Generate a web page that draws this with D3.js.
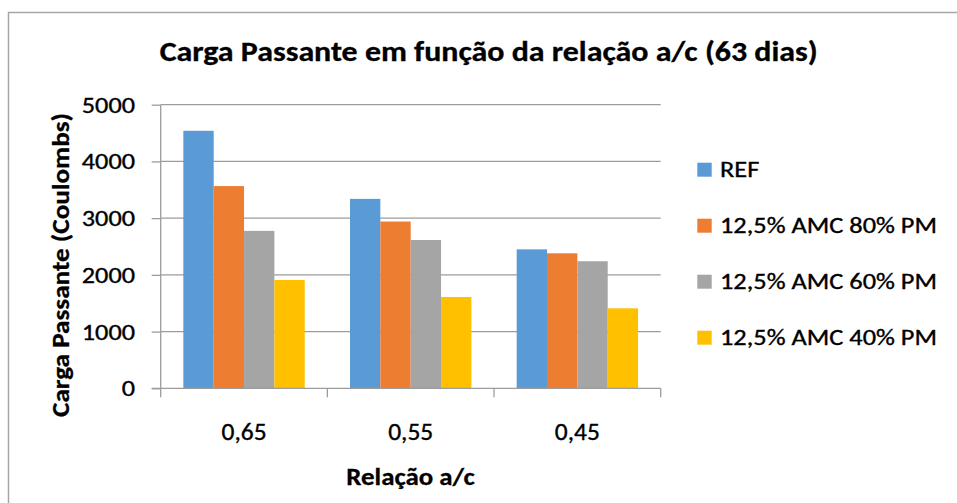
<!DOCTYPE html>
<html><head><meta charset="utf-8">
<script src="https://cdn.jsdelivr.net/npm/d3@7"></script>
<style>body{margin:0;background:#fff}svg{display:block}text{font-family:Carlito,Calibri,Lato,"Open Sans",sans-serif;fill:#000;stroke:#000;stroke-width:0.35px}text[font-weight=bold]{stroke-width:0.3px}</style>
</head><body><svg id="c" width="957" height="503"></svg>
<script>
const categories = ["0,65", "0,55", "0,45"];
const seriesNames = ["REF", "12,5% AMC 80% PM", "12,5% AMC 60% PM", "12,5% AMC 40% PM"];
const ref     = [4540, 3340, 2450];
const amc80   = [3565, 2940, 2380];
const amc60   = [2775, 2615, 2240];
const amc40   = [1910, 1610, 1410];
const yTicks  = [0, 1000, 2000, 3000, 4000, 5000];
const colors  = ["#5B9BD5", "#ED7D31", "#A5A5A5", "#FFC000"];
const titleText = "Carga Passante em função da relação a/c (63 dias)";
const xTitle = "Relação a/c";
const yTitle = "Carga Passante (Coulombs)";

const series = [ref, amc80, amc60, amc40];
const svg = d3.select("#c");
const FAM = 'Carlito,Calibri,Lato,"Open Sans",sans-serif';
const ctx = document.createElement("canvas").getContext("2d");
function capRatio(bold) {
  ctx.font = `${bold ? "bold " : ""}200px ${FAM}`;
  return ctx.measureText("H").actualBoundingBoxAscent / 200;
}
const CAPN = capRatio(false), CAPB = capRatio(true);

// size text by cap height, then stretch horizontally to the measured width
function sized(sel, capPx, width, tx, ty, rot) {
  const bold = sel.attr("font-weight") === "bold";
  sel.attr("font-size", (capPx / (bold ? CAPB : CAPN)).toFixed(2)).attr("x", 0).attr("y", 0);
  const w = sel.node().getComputedTextLength();
  const sx = width ? width / w : 1;
  sel.attr("transform", `translate(${tx},${ty})${rot ? ` rotate(${rot})` : ""} scale(${sx.toFixed(4)},1)`);
  return sx;
}

// chart border
svg.append("rect").attr("x", 8.5).attr("y", 12.5).attr("width", 1000).attr("height", 600)
  .attr("fill", "#fff").attr("stroke", "#a6a6a6").attr("stroke-width", 1.5);

const L = 160.7, R = 660.7, T = 104.7, B = 388.3;
const x0 = d3.scaleBand().domain(categories).range([L, R]).paddingInner(0).paddingOuter(0);
const x1 = d3.scaleBand().domain(d3.range(series.length)).range([0, x0.bandwidth()]).paddingOuter(0.746).paddingInner(0);
const y = d3.scaleLinear().domain([0, 5000]).range([B, T]);

// gridlines
svg.append("g").selectAll("line").data(yTicks.filter(d => d > 0)).join("line")
  .attr("x1", L).attr("x2", R).attr("y1", d => y(d)).attr("y2", d => y(d))
  .attr("stroke", "#9c9c9c").attr("stroke-width", 1.3);

// bars
const g = svg.append("g");
categories.forEach((c, ci) => {
  series.forEach((s, si) => {
    g.append("rect")
      .attr("x", x0(c) + x1(si)).attr("width", x1.bandwidth())
      .attr("y", y(s[ci])).attr("height", B - y(s[ci]))
      .attr("fill", colors[si]);
  });
});

// y axis
const ya = svg.append("g").attr("transform", `translate(${L},0)`)
  .call(d3.axisLeft(y).tickValues(yTicks).tickSize(9).tickFormat(d3.format("d")));
ya.select(".domain").attr("stroke", "#9c9c9c").attr("stroke-width", 1.3).attr("d", `M0,${T}V${B}`);
ya.selectAll(".tick line").attr("stroke", "#9c9c9c").attr("stroke-width", 1.3);
ya.selectAll(".tick text").attr("font-family", null).attr("fill", "#000").attr("dy", null)
  .attr("text-anchor", "end")
  .each(function(){ sized(d3.select(this), 15, this.textContent.length * 13.3, -25.7, 7.5); });

// x axis
const xa = svg.append("g").attr("transform", `translate(0,${B})`)
  .call(d3.axisBottom(x0).tickSize(0).tickFormat(d => d));
xa.select(".domain").attr("stroke", "#9c9c9c").attr("stroke-width", 1.3).attr("d", `M${L-9},0H${R}`);
xa.selectAll(".tick text").attr("font-family", null).attr("fill", "#000").attr("dy", null)
  .attr("text-anchor", "middle")
  .each(function(){ sized(d3.select(this), 15.5, 45, 0, 52); });
// category boundary ticks
xa.append("g").selectAll("line").data([L, ...categories.map(c => x0(c) + x0.bandwidth())]).join("line")
  .attr("x1", d => d).attr("x2", d => d).attr("y1", 0).attr("y2", 9)
  .attr("stroke", "#9c9c9c").attr("stroke-width", 1.3);

// titles
sized(svg.append("text").attr("text-anchor", "middle").attr("font-weight", "bold").text(titleText),
  18, 658, 488.7, 60.7);
sized(svg.append("text").attr("text-anchor", "middle").attr("font-weight", "bold").text(xTitle),
  16.3, 128.5, 410.5, 485);
sized(svg.append("text").attr("text-anchor", "middle").attr("font-weight", "bold").text(yTitle),
  16.3, 304, 68.5, 265, -90);

// legend
const lg = svg.append("g");
seriesNames.forEach((n, i) => {
  const yy = 162.7 + i * 56;
  lg.append("rect").attr("x", 697.3).attr("y", yy).attr("width", 14.4).attr("height", 14)
    .attr("fill", colors[i]);
  lg.append("text").attr("class", "lt").text(n).datum(yy);
});
// common horizontal scale from the long labels
const longT = lg.selectAll("text.lt").filter((d, i) => i === 1);
const sx = sized(longT, 14.5, 217, 0, 0).toFixed(4);
lg.selectAll("text.lt").each(function(d){
  d3.select(this).attr("font-size", (14.5 / CAPN).toFixed(2)).attr("x", 0).attr("y", 0)
    .attr("transform", `translate(720,${d + 14.2}) scale(${sx},1)`);
});
</script></body></html>
